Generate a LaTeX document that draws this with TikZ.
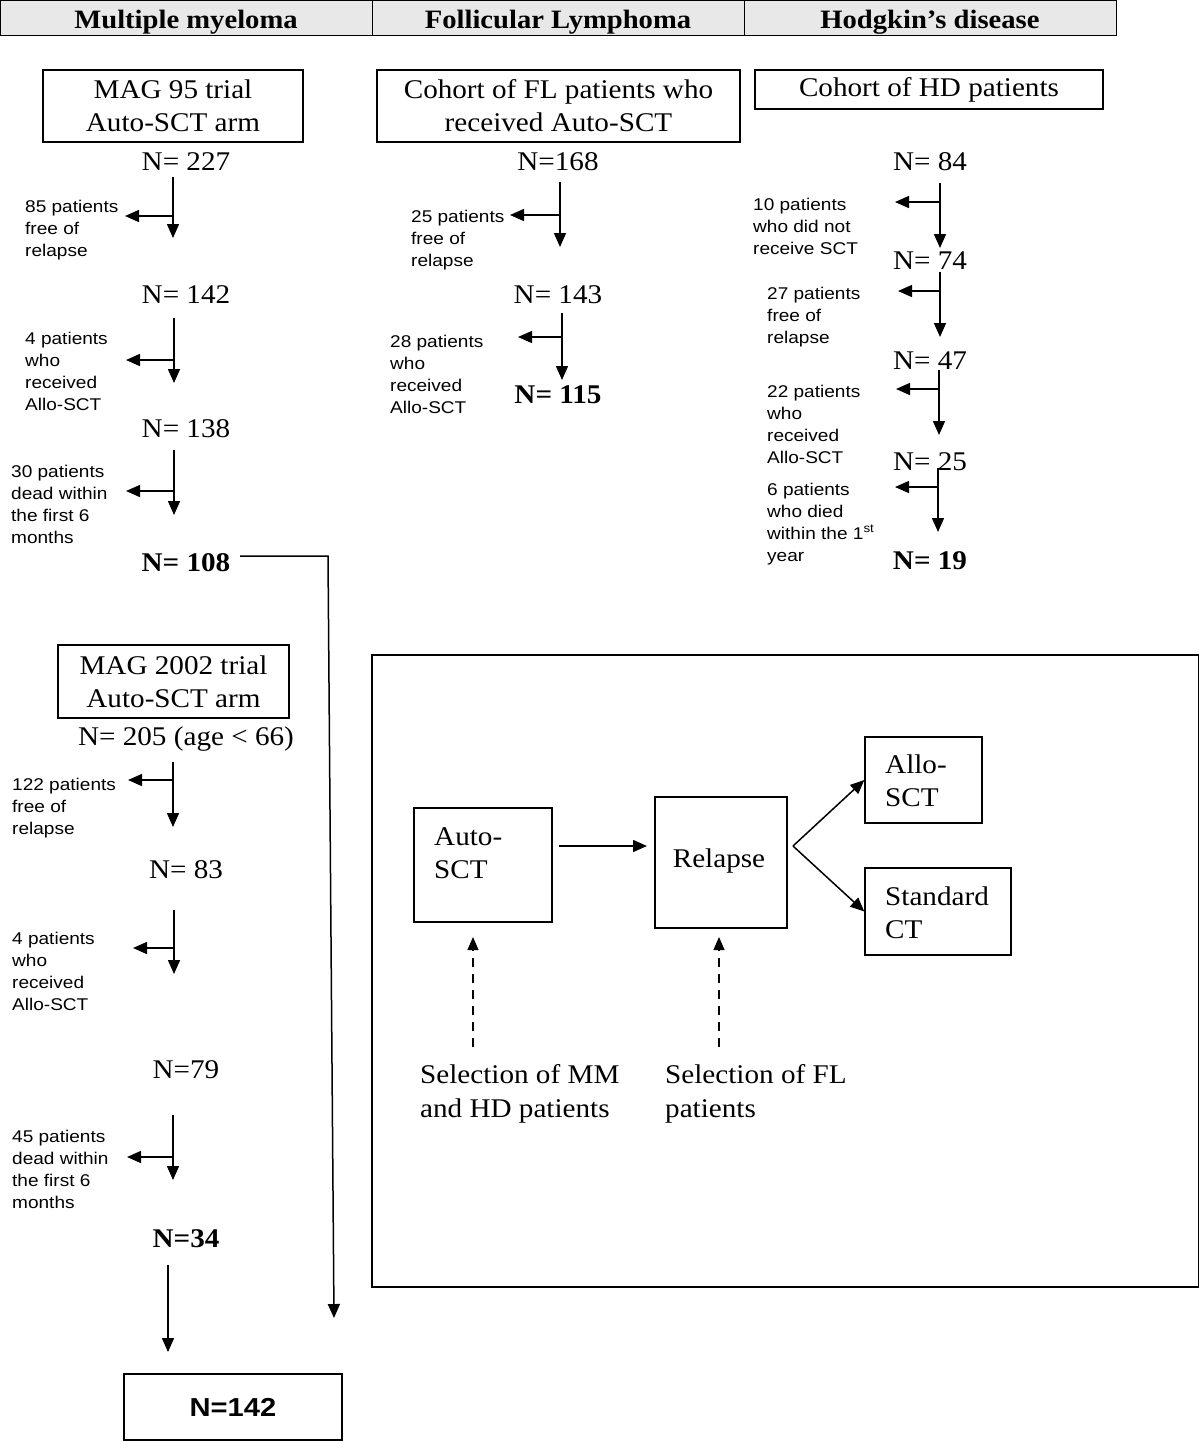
\documentclass[tikz,border=0pt]{standalone}
\usepackage{fontspec}
\setmainfont{Liberation Serif}[FakeStretch=1.08]
\setsansfont{Liberation Sans}[FakeStretch=1.12]
\usetikzlibrary{arrows.meta}
\definecolor{hdrgray}{RGB}{232,232,232}
\newcommand{\dropflow}[6]{%
  \coordinate (#1t) at (#2,#3);
  \coordinate (#1b) at (#2,#4);
  \coordinate (#1j) at (#2,#5);
  \coordinate (#1l) at (#6,#5);
  \draw[arr] (#1t) -- (#1b);
  \draw[arr] (#1j) -- (#1l);}
\tikzset{
  arr/.style={line width=1.5pt,-{Triangle[length=14pt,width=12pt]}},
  darr/.style={line width=1.2pt,dash pattern=on 9pt off 7pt,-{Triangle[length=13pt,width=11pt]}},
  box/.style={draw,line width=1.2pt,inner sep=0pt,align=center,font=\fontsize{27}{33}\selectfont},
  plainbox/.style={draw,line width=1.4pt,inner sep=0pt},
  hdr/.style={anchor=base,inner sep=0pt,font=\bfseries\fontsize{26.5}{30}\selectfont},
  ntext/.style={anchor=base,inner sep=0pt,font=\fontsize{27}{32}\selectfont},
  nbold/.style={ntext,font=\bfseries\fontsize{27}{32}\selectfont},
  lbl/.style={anchor=base west,align=left,inner sep=0pt,font=\sffamily\fontsize{17}{22}\selectfont},
  btxt/.style={anchor=base west,align=left,inner sep=0pt,font=\fontsize{27}{33}\selectfont},
  stxt/.style={anchor=base west,align=left,inner sep=0pt,font=\fontsize{27}{34}\selectfont},
}
\begin{document}
\begin{tikzpicture}[x=1pt,y=-1pt]
\useasboundingbox (0,0) rectangle (1200,1441);
% header (multi-line nodes below are placed by the baseline of their last line)
\draw[line width=0.9pt,fill=hdrgray] (0.8,0.8) rectangle (1116,35);
\draw[line width=0.9pt] (372,0.8) -- (372,35) (744,0.8) -- (744,35);
\node[hdr] (hmm) at (186,28) {Multiple myeloma};
\node[hdr] (hfl) at (558,28) {Follicular Lymphoma};
\node[hdr] (hhd) at (930,28) {Hodgkin’s disease};

% ---------- Multiple myeloma, MAG 95
\node[box,minimum width=260pt,minimum height=72pt] (mag95) at (173,106) {MAG 95 trial\\Auto-SCT arm};
\node[ntext] (n227) at (186,170) {N= 227};
\dropflow{ma}{173}{177}{238}{216}{125}
\node[lbl] (la) at (25,256) {85 patients\\free of\\relapse};
\node[ntext] (n142a) at (186,303) {N= 142};
\dropflow{mb}{174}{318}{383}{360}{126}
\node[lbl] (lb) at (25,410) {4 patients\\who\\received\\Allo-SCT};
\node[ntext] (n138) at (186,437) {N= 138};
\dropflow{mc}{174}{450}{515}{491}{126}
\node[lbl] (lc) at (11,543) {30 patients\\dead within\\the first 6\\months};
\node[nbold] (n108) at (186,571) {N= 108};
\coordinate (m108r) at (240,556);
\coordinate (mcorner) at (328,556);
\coordinate (mend) at (334,1318);
\draw[arr] (m108r) -- (mcorner) -- (mend);

% ---------- Follicular lymphoma
\node[box,minimum width=363pt,minimum height=72pt] (flbox) at (558.5,106) {Cohort of FL patients who\\received Auto-SCT};
\node[ntext] (n168) at (558,170) {N=168};
\dropflow{fa}{560}{182}{247}{215}{510}
\node[lbl] (lfa) at (411,266) {25 patients\\free of\\relapse};
\node[ntext] (n143) at (558,303) {N= 143};
\dropflow{fb}{562}{313}{380}{337}{518}
\node[lbl] (lfb) at (390,413) {28 patients\\who\\received\\Allo-SCT};
\node[nbold] (n115) at (558,403) {N= 115};

% ---------- Hodgkin's disease
\node[box,minimum width=348pt,minimum height=39pt] (hdbox) at (929,89.5) {Cohort of HD patients};
\node[ntext] (n84) at (930,170) {N= 84};
\dropflow{ha}{940}{183}{248}{202}{895}
\node[lbl] (lha) at (753,254) {10 patients\\who did not\\receive SCT};
\node[ntext] (n74) at (930,269) {N= 74};
\dropflow{hb}{940}{272}{337}{291}{898}
\node[lbl] (lhb) at (767,343) {27 patients\\free of\\relapse};
\node[ntext] (n47) at (930,369) {N= 47};
\dropflow{hc}{939}{370}{435}{389}{896}
\node[lbl] (lhc) at (767,463) {22 patients\\who\\received\\Allo-SCT};
\node[ntext] (n25) at (930,470) {N= 25};
\dropflow{hd}{938}{468}{532}{487}{895}
\node[lbl] (lhd) at (767,561) {6 patients\\who died\\within the 1\textsuperscript{st}\\year};
\node[nbold] (n19) at (930,569) {N= 19};

% ---------- Multiple myeloma, MAG 2002
\node[box,minimum width=231pt,minimum height=73pt] (mag02) at (173.5,681.5) {MAG 2002 trial\\Auto-SCT arm};
\node[ntext] (n205) at (186,745) {N= 205 (age < 66)};
\dropflow{ka}{173}{762}{827}{780}{128}
\node[lbl] (lka) at (12,834) {122 patients\\free of\\relapse};
\node[ntext] (n83) at (186,878) {N= 83};
\dropflow{kb}{174}{910}{974}{948}{133}
\node[lbl] (lkb) at (12,1010) {4 patients\\who\\received\\Allo-SCT};
\node[ntext] (n79) at (186,1078) {N=79};
\dropflow{kc}{173}{1115}{1180}{1157}{127}
\node[lbl] (lkc) at (12,1208) {45 patients\\dead within\\the first 6\\months};
\node[nbold] (n34) at (186,1247) {N=34};
\coordinate (k34t) at (168,1265);
\coordinate (k34b) at (168,1352);
\draw[arr] (k34t) -- (k34b);
\node[draw,line width=2pt,minimum width=218pt,minimum height=66pt,inner sep=0pt,font=\sffamily\bfseries\fontsize{26}{30}\selectfont] (total) at (233,1407) {N=142};

% ---------- lower right scheme
\draw[line width=1.2pt] (372,655) rectangle (1198.5,1287);
\node[plainbox,minimum width=138pt,minimum height=114pt] (auto) at (483,865) {};
\node[btxt] (autot) at (434,878) {Auto-\\SCT};
\node[plainbox,minimum width=132pt,minimum height=131pt] (relapse) at (721,862.5) {};
\node[anchor=base,inner sep=0pt,font=\fontsize{27}{33}\selectfont] (relt) at (719,867) {Relapse};
\node[plainbox,minimum width=117pt,minimum height=86pt] (allo) at (923.5,780) {};
\node[btxt] (allot) at (885,806) {Allo-\\SCT};
\node[plainbox,minimum width=146pt,minimum height=87pt] (std) at (938,911.5) {};
\node[btxt] (stdt) at (885,938) {Standard\\CT};
\coordinate (ar1) at (559,846);
\coordinate (ar2) at (647,846);
\draw[arr] (ar1) -- (ar2);
\coordinate (br) at (793,846);
\draw[arr] (br) -- (allo.west);
\draw[arr] (br) -- (std.west);
\coordinate (s1b) at (473,1047);
\coordinate (s1t) at (473,937);
\coordinate (s2b) at (719,1047);
\coordinate (s2t) at (719,937);
\draw[darr] (s1b) -- (s1t);
\draw[darr] (s2b) -- (s2t);
\node[stxt] (sel1) at (420,1117) {Selection of MM\\and HD patients};
\node[stxt] (sel2) at (665,1117) {Selection of FL\\patients};
\end{tikzpicture}
\end{document}
